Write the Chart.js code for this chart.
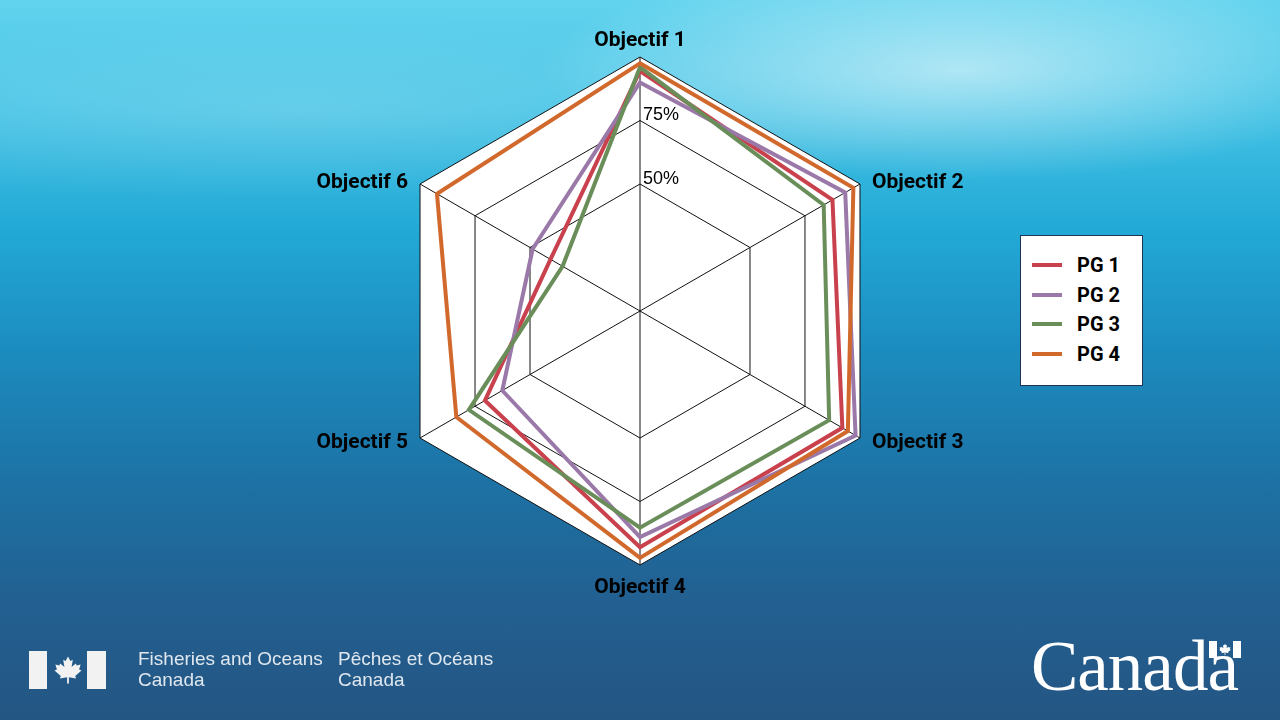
<!DOCTYPE html>
<html>
<head>
<meta charset="utf-8">
<title>Objectifs PG</title>
<script src="https://cdn.jsdelivr.net/npm/chart.js@4.4.1/dist/chart.umd.min.js"></script>
<style>
  html, body { margin: 0; padding: 0; }
  body {
    width: 1280px; height: 720px; overflow: hidden; position: relative;
    font-family: Roboto, "Liberation Sans", sans-serif;
    background:
      radial-gradient(ellipse 420px 110px at 960px 70px, rgba(255,255,255,0.55), rgba(255,255,255,0) 100%),
      radial-gradient(ellipse 700px 90px at 300px 110px, rgba(255,255,255,0.18), rgba(255,255,255,0) 100%),
      linear-gradient(to bottom, #62d3ee 0%, #45c4e6 14%, #22a9d6 32%, #1c8dc0 48%, #1d73a6 66%, #225f90 84%, #245683 100%);
  }
  #chart { position: absolute; left: 0; top: 0; }
  #legend {
    position: absolute; left: 1020px; top: 235px; width: 121px; height: 149px;
    background: #fff; border: 1px solid #1f3450; box-sizing: content-box;
  }
  .item { position: absolute; left: 0; height: 20px; }
  .item .swatch { position: absolute; left: 11px; top: 8px; width: 30px; height: 4px; }
  .item .txt { position: absolute; left: 56px; top: -2px; font: bold 20px Roboto, sans-serif; color: #000; white-space: nowrap; }
  .dfo { position: absolute; left: 138px; top: 648px; color: #dfe7ef; font: 19px "Liberation Sans", Arial, sans-serif; line-height: 21px; }
  .dfo2 { left: 338px; }
  .wordmark { position: absolute; left: 1031px; top: 626px; color: #fff; font: 71px "Liberation Serif", "DejaVu Serif", serif; letter-spacing: -1px; }
</style>
</head>
<body>
<canvas id="chart" width="1280" height="720"></canvas>
<div id="legend"></div>

<svg style="position:absolute;left:29px;top:651px" width="78" height="38" viewBox="0 0 78 38">
  <rect x="0" y="0" width="18" height="38" fill="#f2f2f2"/>
  <rect x="58" y="0" width="19" height="38" fill="#f2f2f2"/>
  <g transform="translate(24,4) scale(0.3)">
    <polygon fill="#f2f2f2" points="50,5 58,20 66,16 62,40 76,28 79,35 92,32 87,48 95,52 74,70 77,78 53,74 53,95 47,95 47,74 23,78 26,70 5,52 13,48 8,32 21,35 24,28 38,40 34,16 42,20"/>
  </g>
</svg>
<div class="dfo">Fisheries and Oceans<br>Canada</div>
<div class="dfo dfo2">Pêches et Océans<br>Canada</div>
<div class="wordmark">Canada</div>
<svg style="position:absolute;left:1209px;top:641px" width="32" height="18" viewBox="0 0 32 18">
  <rect x="0" y="0" width="8" height="17" fill="#fff"/>
  <rect x="24" y="0" width="8" height="17" fill="#fff"/>
  <g transform="translate(9.5,2) scale(0.13)">
    <polygon fill="#fff" points="50,5 58,20 66,16 62,40 76,28 79,35 92,32 87,48 95,52 74,70 77,78 53,74 53,95 47,95 47,74 23,78 26,70 5,52 13,48 8,32 21,35 24,28 38,40 34,16 42,20"/>
  </g>
</svg>

<script>
// axes of the radar
const objectifs = ['Objectif 1', 'Objectif 2', 'Objectif 3', 'Objectif 4', 'Objectif 5', 'Objectif 6'];

// one series per PG, values in %
const seriesNames = ['PG 1', 'PG 2', 'PG 3', 'PG 4'];
const pg1 = [94.5, 87.5, 92, 93, 70.5, 40.7];
const pg2 = [90, 93.3, 98, 89, 62.6, 48.8];
const pg3 = [96, 83.5, 86, 85.3, 77.8, 35.2];
const pg4 = [97.5, 97, 94.5, 97.2, 83.5, 92.3];
const seriesColors = ['#c8414d', '#9a79a9', '#6a8e59', '#d2692c'];

// tick labels that are printed on the scale
const tickLabels = [50, 75];

const seriesValues = [pg1, pg2, pg3, pg4];

// Draw the axis names and the % labels next to the vertical axis
const axisText = {
    id: 'axisText',
    afterDraw(chart) {
        const r = chart.scales.r;
        const ctx = chart.ctx;
        ctx.save();
        ctx.fillStyle = '#000';
        ctx.textBaseline = 'middle';
        ctx.font = 'bold 21px Roboto';
        chart.data.labels.forEach((label, i) => {
            const p = r.getPointPosition(i, r.drawingArea);
            const dx = p.x - r.xCenter;
            let x = p.x, y = p.y;
            if (Math.abs(dx) < 1) {
                ctx.textAlign = 'center';
                y += p.y < r.yCenter ? -16 : 23;
            } else {
                ctx.textAlign = dx > 0 ? 'left' : 'right';
                x += dx > 0 ? 12 : -12;
                y += p.y > r.yCenter ? 5 : -1;
            }
            ctx.fillText(label, x, y);
        });

        ctx.font = '18px "Liberation Sans"';
        ctx.textAlign = 'left';
        tickLabels.forEach(v => {
            const d = r.getDistanceFromCenterForValue(v);
            ctx.fillText(v + '%', r.xCenter + 3, r.yCenter - d - 5);
        });
        ctx.restore();
    }
};

const chart = new Chart(document.getElementById('chart'), {
    type: 'radar',
    data: {
        labels: objectifs,
        datasets: seriesNames.map((name, i) => ({
            label: name,
            data: seriesValues[i],
            borderColor: seriesColors[i],
            backgroundColor: seriesColors[i],
            borderWidth: 4,
            fill: false,
            pointRadius: 0,
            pointHoverRadius: 0,
            order: seriesNames.length - i
        }))
    },
    options: {
        responsive: false,
        animation: false,
        layout: { padding: { left: 386, right: 386, top: 57, bottom: 155 } },
        elements: { line: { tension: 0, borderJoinStyle: 'miter' } },
        plugins: { legend: { display: false }, tooltip: { enabled: false } },
        scales: {
            r: {
                min: 0,
                max: 100,
                backgroundColor: '#fff',
                ticks: { stepSize: 25, display: false },
                grid: {
                    color: ctx => ctx.tick && ctx.tick.value === 25 ? 'rgba(0,0,0,0)' : '#111',
                    lineWidth: 1
                },
                angleLines: { color: '#111', lineWidth: 1 },
                pointLabels: { display: false }
            }
        }
    },
    plugins: [axisText]
});

// legend box built from the datasets
const legendBox = document.getElementById('legend');
chart.data.datasets.forEach((ds, i) => {
    const row = document.createElement('div');
    row.className = 'item';
    row.style.top = (19 + i * 29.5) + 'px';
    row.innerHTML = '<div class="swatch" style="background:' + ds.borderColor + '"></div><div class="txt">' + ds.label + '</div>';
    legendBox.appendChild(row);
});
</script>
</body>
</html>
